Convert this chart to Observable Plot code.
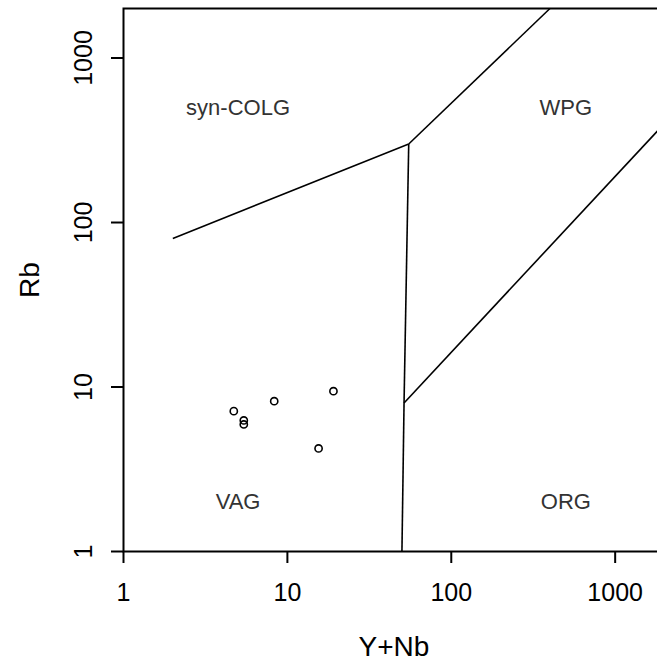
<!DOCTYPE html>
<html><head><meta charset="utf-8">
<script src="https://cdn.jsdelivr.net/npm/d3@7"></script>
<script src="https://cdn.jsdelivr.net/npm/@observablehq/plot@0.6"></script>
<style>html,body{margin:0;padding:0;background:#fff} svg{display:block}</style>
</head><body><div id="chart"></div>
<script>
// Sample points (Y+Nb vs Rb)
const sampleYNb = [4.71, 5.42, 5.42, 8.31, 19.1, 15.5];
const sampleRb  = [7.13, 6.26, 5.92, 8.20, 9.43, 4.23];

// Field labels
const fieldNames = ["syn-COLG", "WPG", "VAG", "ORG"];
const fieldX = [5, 500, 5, 500];
const fieldY = [500, 500, 2, 2];

// Boundary segments (Pearce et al. 1984)
const boundaryX1 = [2, 55, 55, 51.5, 51.5];
const boundaryY1 = [80, 300, 300, 8, 8];
const boundaryX2 = [55, 400, 51.5, 50, 2000];
const boundaryY2 = [300, 2000, 8, 1, 400];

// Ticks
const xTicks = [1, 10, 100, 1000];
const yTicks = [1, 10, 100, 1000];
const xTitle = "Y+Nb";
const yTitle = "Rb";

const points = sampleYNb.map((x, i) => ({x, y: sampleRb[i]}));
const fields = fieldNames.map((name, i) => ({name, x: fieldX[i], y: fieldY[i]}));
const segments = boundaryX1.map((x1, i) => ({x1, y1: boundaryY1[i], x2: boundaryX2[i], y2: boundaryY2[i]}));

const chart = Plot.plot({
  width: 657,
  height: 661,
  marginLeft: 123,
  marginRight: -7,
  marginTop: 8,
  marginBottom: 110,
  style: {fontFamily: "'Liberation Sans', Arial, sans-serif", background: "#fff", color: "#000"},
  x: {type: "log", domain: [1, 2000]},
  y: {type: "log", domain: [1, 2000]},
  marks: [
    Plot.link(segments, {x1: "x1", y1: "y1", x2: "x2", y2: "y2", stroke: "#000", strokeWidth: 1.6}),
    Plot.dot(points, {x: "x", y: "y", r: 3.6, stroke: "#000", strokeWidth: 1.6, fill: "none"}),
    Plot.text(fields, {x: "x", y: "y", text: "name", fontSize: 22, fill: "#333", textAnchor: "middle", lineAnchor: "middle"}),
    Plot.frame({stroke: "#000", strokeWidth: 2}),
    Plot.axisX({ticks: xTicks, tickFormat: d => String(d), tickSize: 12, tickPadding: 20, fontSize: 25, strokeWidth: 2, label: null}),
    Plot.axisY({ticks: yTicks, tickFormat: d => String(d), tickSize: 12, tickPadding: 20, tickRotate: -90, fontSize: 25, strokeWidth: 2, label: null}),
    Plot.text([xTitle], {frameAnchor: "bottom", dy: 104, lineAnchor: "bottom", textAnchor: "middle", fontSize: 28, fill: "#000"}),
    Plot.text([yTitle], {frameAnchor: "left", dx: -85, rotate: -90, lineAnchor: "bottom", textAnchor: "middle", fontSize: 28, fill: "#000"})
  ]
});
document.getElementById("chart").appendChild(chart);
</script>
</body></html>
